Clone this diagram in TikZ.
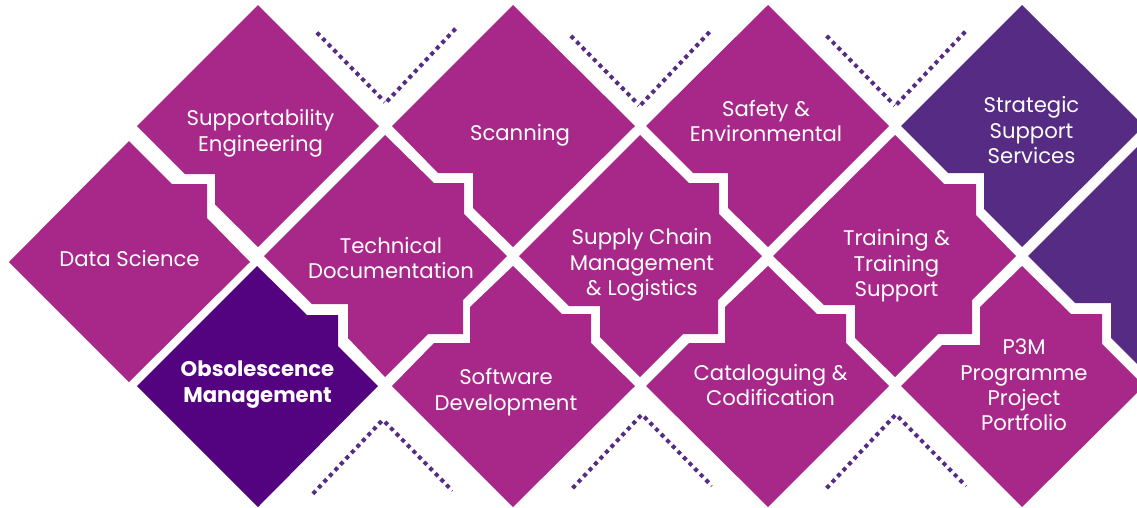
\documentclass[tikz,border=0pt]{standalone}
\usepackage{fontspec}
\setmainfont{Poppins}
\definecolor{mag}{HTML}{A8288A}
\definecolor{deep}{HTML}{530380}
\definecolor{plum}{HTML}{552B84}
\tikzset{
  tile/.style={fill=mag,draw=none},
  label/.style={text=white,align=center,inner sep=0pt,font=\fontsize{21.2}{25.5}\selectfont},
  dots/.style={draw=plum,line width=4pt,dash pattern=on 4pt off 4pt,shorten <=-2pt,shorten >=-2pt},
  nick/.style={draw=plum,line width=0.6pt}
}
\begin{document}
\begin{tikzpicture}[x=1pt,y=-1pt]
\useasboundingbox (0,0) rectangle (1137,507);
\clip (0,0) rectangle (1137,507);
% tiles, upper row
\fill[tile] (258,5)--(379,126)--(258,247)--(215,204.5)--(215,174)--(185,174)--(137,126)--cycle;
\fill[tile] (513,5)--(635,126)--(513,247)--(473,208)--(473,173)--(438,173)--(392,126)--cycle;
\fill[tile] (768,5)--(889,126)--(768,247)--(728,208)--(728,173)--(693,173)--(646,126)--cycle;
\fill[plum] (1022,5)--(1144,126)--(1022,247)--(984,209)--(984,173)--(948,173)--(901,126)--cycle;
% tiles, left and middle
\fill[tile] (129,141)--(172,184)--(207,184)--(207,218)--(250,262)--(129,382)--(9,262)--cycle;
\fill[tile] (385,135)--(434,183)--(464,183)--(464,214)--(507,256)--(463,300)--(463,334)--(428,334)--(385,377)--(348,338)--(348,304)--(312,304)--(264,256)--cycle;
\fill[tile] (640,135)--(689,183)--(719,183)--(719,214)--(762,256)--(718,300)--(718,334)--(683,334)--(640,377)--(600,337)--(600,306)--(569,306)--(519,256)--cycle;
\fill[tile] (895,135)--(944,184)--(976,184)--(976,215)--(1016,256)--(972,300)--(972,334)--(938,334)--(895,377)--(855,338)--(855,305)--(824,305)--(773,256)--cycle;
\fill[plum] (1028,256)--(1137,147)--(1137,364)--(1111,338)--(1111,303)--(1075,303)--cycle;
% tiles, lower row
\fill[deep] (257,266)--(307,315)--(338,315)--(338,346)--(378,386)--(258,507)--(137,386)--cycle;
\fill[tile] (513,266)--(562,314)--(591,314)--(591,343)--(635,386)--(513,507)--(392,386)--(434,343)--(470,343)--(470,307)--cycle;
\fill[tile] (768,266)--(817,314)--(846,314)--(846,343)--(889,386)--(768,507)--(646,386)--(689,343)--(725,343)--(725,307)--cycle;
\fill[tile] (1022,266)--(1071,314)--(1102,314)--(1102,344)--(1144,386)--(1022,507)--(901,386)--(942,345)--(980,345)--(980,307)--cycle;
% dotted chevrons
\coordinate (a1) at (318.3,34); \coordinate (a2) at (380.3,97.3); \coordinate (a3) at (388.3,100); \coordinate (a4) at (454.3,30);
\draw[dots] (a1)--(a2); \draw[dots] (a3)--(a4);
\coordinate (an1) at (383,103.5); \coordinate (an2) at (385.5,101);
\draw[nick] (an1)--(an2);
\coordinate (b1) at (572.3,37.3); \coordinate (b2) at (634,100); \coordinate (b3) at (642.3,103.3); \coordinate (b4) at (708.3,33.3);
\draw[dots] (b1)--(b2); \draw[dots] (b3)--(b4);
\coordinate (bn1) at (637,107); \coordinate (bn2) at (639.5,104.3);
\draw[nick] (bn1)--(bn2);
\coordinate (c1) at (828,37.3); \coordinate (c2) at (889.7,100.3); \coordinate (c3) at (898,103); \coordinate (c4) at (964,33);
\draw[dots] (c1)--(c2); \draw[dots] (c3)--(c4);
\coordinate (cn1) at (893,107); \coordinate (cn2) at (895.5,104.3);
\draw[nick] (cn1)--(cn2);
\coordinate (d1) at (314.3,492.3); \coordinate (d2) at (380.7,422); \coordinate (d3) at (386.3,423.3); \coordinate (d4) at (448.3,486.7);
\draw[dots] (d1)--(d2); \draw[dots] (d3)--(d4);
\coordinate (dn1) at (451.5,491.5); \coordinate (dn2) at (453,490);
\draw[nick] (dn1)--(dn2);
\coordinate (e1) at (574,486.7); \coordinate (e2) at (639.7,416.7); \coordinate (e3) at (645.7,418.3); \coordinate (e4) at (707.3,481.3);
\draw[dots] (e1)--(e2); \draw[dots] (e3)--(e4);
\coordinate (en1) at (710.5,487); \coordinate (en2) at (712.5,485);
\draw[nick] (en1)--(en2);
\coordinate (f1) at (828,486.7); \coordinate (f2) at (893.7,416.7); \coordinate (f3) at (899.7,418.3); \coordinate (f4) at (961.3,481.3);
\draw[dots] (f1)--(f2); \draw[dots] (f3)--(f4);
\coordinate (fn1) at (965,487); \coordinate (fn2) at (967,485);
\draw[nick] (fn1)--(fn2);
% labels
\node[label] (supp) at (260.5,133.5) {Supportability\\Engineering};
\node[label] (data) at (129.5,259) {Data Science};
\node[label] (tech) at (391,258) {Technical\\Documentation};
\node[label,font=\fontsize{21.2}{25.5}\selectfont\bfseries] (obs) at (257.5,384.5) {Obsolescence\\Management};
\node[label] (scan) at (520,135) {Scanning};
\node[label] (soft) at (506,392) {Software\\Development};
\node[label] (safe) at (766,121) {Safety \&\\Environmental};
\node[label] (chain) at (642,265) {Supply Chain\\Management\\\& Logistics};
\node[label] (cat) at (770.5,385) {Cataloguing \&\\Codification};
\node[label] (train) at (896.5,266) {Training \&\\Training\\Support};
\node[label] (strat) at (1031.5,130.5) {Strategic\\Support\\Services};
\node[label,font=\fontsize{21.2}{25.2}\selectfont] (ppp) at (1024,385) {P3M\\Programme\\Project\\Portfolio};
\end{tikzpicture}
\end{document}
